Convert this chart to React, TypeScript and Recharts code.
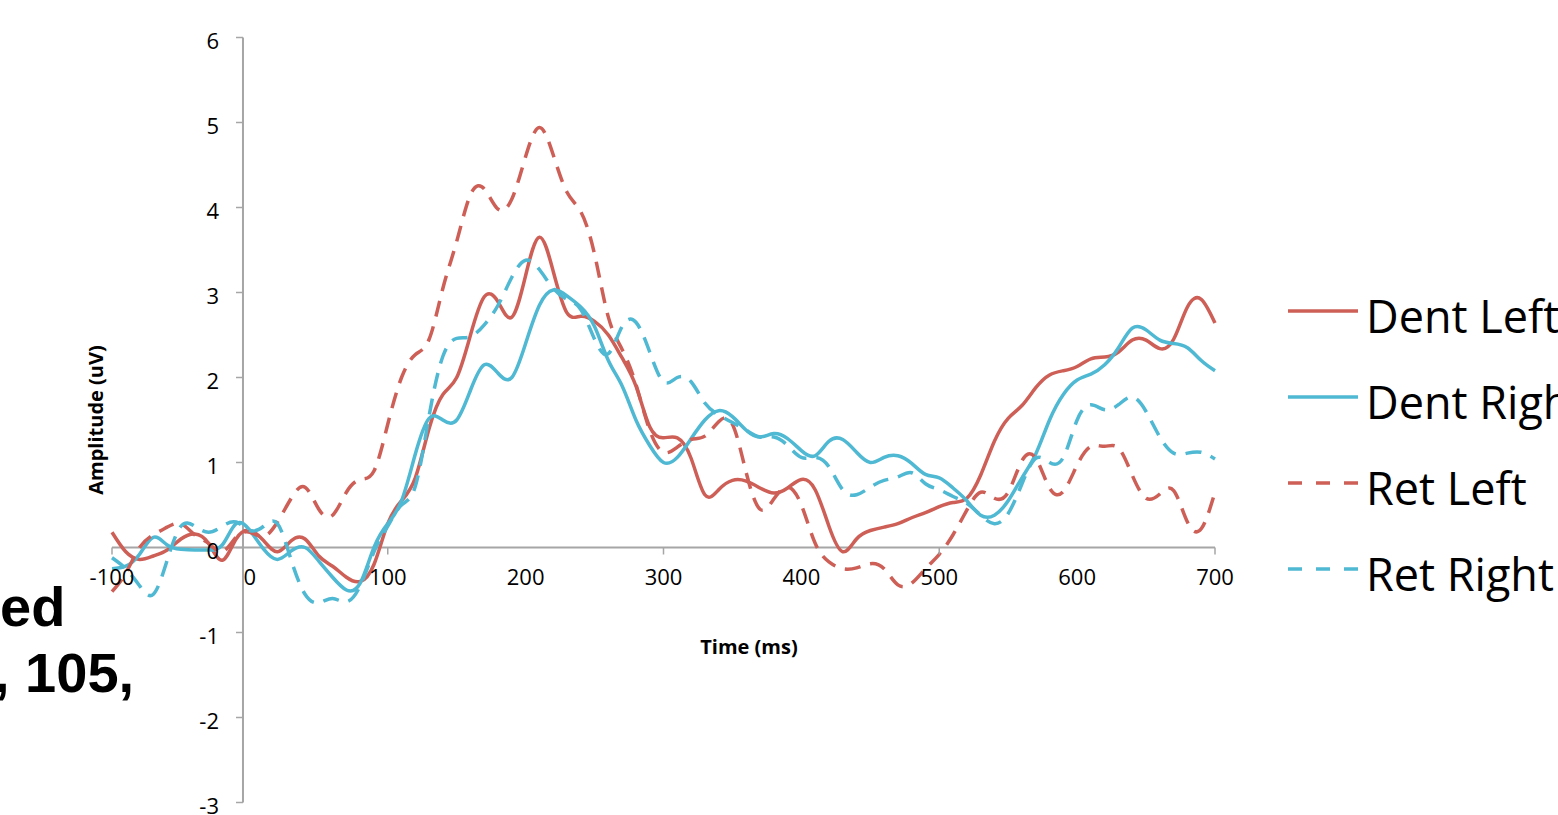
import { LineChart, Line, XAxis, YAxis, ReferenceLine } from "recharts";

// time points (ms)
const times = [
  -100, -90, -80, -70, -60, -50, -40, -30, -20, -10,
  0, 10, 20, 30, 40, 50, 60, 70, 80, 90,
  100, 110, 120, 130, 140, 150, 160, 170, 180, 190,
  200, 210, 220, 230, 240, 250, 260, 270, 280, 290,
  300, 310, 320, 330, 340, 350, 360, 370, 380, 390,
  400, 410, 420, 430, 440, 450, 460, 470, 480, 490,
  500, 510, 520, 530, 540, 550, 560, 570, 580, 590,
  600, 610, 620, 630, 640, 650, 660, 670, 680, 690,
  700,
];

const dentLeft = [
  0.18, -0.05, -0.14, -0.1, -0.03, 0.1, 0.16, 0.05, -0.15, 0.1,
  0.2, 0.08, -0.05, 0.08, 0.1, -0.1, -0.22, -0.35, -0.4, -0.2,
  0.28, 0.55, 0.82, 1.4, 1.8, 2.0, 2.5, 2.95, 2.89, 2.71,
  3.2, 3.65, 3.25, 2.76, 2.72, 2.66, 2.5, 2.23, 1.9, 1.42,
  1.29, 1.29, 1.05, 0.62, 0.68, 0.79, 0.78, 0.7, 0.64, 0.7,
  0.8, 0.68, 0.25, -0.05, 0.1, 0.2, 0.24, 0.28, 0.35, 0.41,
  0.48, 0.53, 0.58, 0.85, 1.25, 1.52, 1.67, 1.88, 2.03, 2.08,
  2.13, 2.22, 2.24, 2.3, 2.44, 2.44, 2.34, 2.45, 2.83, 2.92,
  2.64,
];

const dentRight = [
  -0.25, -0.22, -0.08, 0.12, 0.03, -0.02, -0.03, -0.03, 0.03, 0.28,
  0.2, -0.02, -0.14, -0.04, 0.0, -0.16, -0.35, -0.5, -0.42, 0.0,
  0.28, 0.55, 1.1, 1.52, 1.5, 1.5, 1.85, 2.15, 2.05, 2.0,
  2.4, 2.85, 3.03, 2.96, 2.83, 2.6, 2.2, 1.9, 1.5, 1.2,
  1.0, 1.06, 1.28, 1.5, 1.61, 1.54, 1.38, 1.3, 1.34, 1.28,
  1.14, 1.08, 1.25, 1.27, 1.12, 1.0, 1.06, 1.08, 0.99, 0.86,
  0.82, 0.7, 0.55, 0.38, 0.38, 0.55, 0.82, 1.1, 1.5, 1.8,
  1.97, 2.04, 2.15, 2.35, 2.58, 2.56, 2.44, 2.4, 2.35, 2.2,
  2.08,
];

const retLeft = [
  -0.52, -0.3, 0.0, 0.15, 0.24, 0.28, 0.15, 0.05, -0.05, 0.12,
  0.18, 0.13, 0.3, 0.58, 0.71, 0.45, 0.38, 0.65, 0.8, 0.9,
  1.45, 2.0, 2.27, 2.45, 3.05, 3.6, 4.15, 4.22, 3.98, 4.1,
  4.6, 4.94, 4.62, 4.18, 3.95, 3.45, 2.71, 2.33, 1.92, 1.38,
  1.12, 1.18, 1.27, 1.31, 1.48, 1.45, 0.88, 0.45, 0.57, 0.71,
  0.5, 0.05, -0.17, -0.25, -0.24, -0.19, -0.25, -0.44, -0.42, -0.25,
  -0.08, 0.15, 0.44, 0.65, 0.58, 0.65, 1.02, 1.05, 0.7, 0.66,
  0.97, 1.19, 1.19, 1.17, 0.85, 0.58, 0.63, 0.67, 0.3, 0.22,
  0.65,
];

const retRight = [
  -0.12, -0.25, -0.45, -0.55, -0.15, 0.25, 0.25, 0.18, 0.25, 0.3,
  0.2, 0.25, 0.28, -0.15, -0.55, -0.65, -0.6, -0.64, -0.45, -0.05,
  0.25, 0.5, 0.72, 1.55, 2.25, 2.46, 2.48, 2.62, 2.85, 3.18,
  3.38, 3.27, 3.05, 2.92, 2.8, 2.45, 2.28, 2.6, 2.65, 2.3,
  1.95, 2.0, 1.95, 1.7, 1.56, 1.47, 1.38, 1.3, 1.3, 1.2,
  1.06, 1.06, 0.95, 0.68, 0.62, 0.71, 0.79, 0.83, 0.88, 0.75,
  0.68, 0.6, 0.52, 0.38, 0.28, 0.4, 0.75, 1.05, 1.0, 1.06,
  1.5, 1.68, 1.62, 1.68, 1.77, 1.6, 1.3, 1.11, 1.11, 1.12,
  1.04,
];

const xTicks = [-100, 0, 100, 200, 300, 400, 500, 600, 700];
const xTickMarks = [-100, 100, 300, 500, 700];
const yTicks = [-3, -2, -1, 0, 1, 2, 3, 4, 5, 6];

const RED = "#cd5f57";
const BLUE = "#4fb8d2";
const AXIS = "#a6a6a6";
const FONT = "'Open Sans', sans-serif";
const DASH = "16 10";

const series = [
  { key: "dentLeft", name: "Dent Left", color: RED, dash: undefined },
  { key: "dentRight", name: "Dent Right", color: BLUE, dash: undefined },
  { key: "retLeft", name: "Ret Left", color: RED, dash: DASH },
  { key: "retRight", name: "Ret Right", color: BLUE, dash: DASH },
];

const data = times.map((t, i) => ({
  t,
  dentLeft: dentLeft[i],
  dentRight: dentRight[i],
  retLeft: retLeft[i],
  retRight: retRight[i],
}));

const W = 1558;
const H = 815;
const AX = 1; // tiny axis band, labels are drawn on the zero lines
const M = { top: 37.5, right: 343, bottom: 12.5 - AX, left: 112 - AX };
const PLOT_W = W - 112 - M.right;
const PLOT_H = H - M.top - 12.5;
const X_MIN = -100;
const X_MAX = 700;
const Y_MIN = -3;
const Y_MAX = 6;
const Y_AXIS_AT = -5; // vertical axis crosses a little left of 0 ms

// axes are drawn at value 0 / Y_AXIS_AT instead of the plot edges
const zeroShift = (-PLOT_H * (0 - Y_MIN)) / (Y_MAX - Y_MIN);
const yAxisShift = (PLOT_W * (Y_AXIS_AT - X_MIN)) / (X_MAX - X_MIN);

function XTick(props: any) {
  const { x, payload } = props;
  const ay = M.top + PLOT_H + zeroShift;
  return (
    <g>
      {xTickMarks.includes(payload.value) && (
        <line x1={x} x2={x} y1={ay} y2={ay + 7} stroke={AXIS} strokeWidth={1.5} />
      )}
      <text x={x} y={ay + 37} textAnchor="middle" fontSize={22} fontFamily={FONT} fill="#000">
        {payload.value}
      </text>
    </g>
  );
}

function YTick(props: any) {
  const { y, payload } = props;
  const ax = 112 + yAxisShift;
  return (
    <g>
      <line x1={ax - 7} x2={ax} y1={y} y2={y} stroke={AXIS} strokeWidth={1.5} />
      <text x={ax - 24} y={y + 11} textAnchor="end" fontSize={22} fontFamily={FONT} fill="#000">
        {payload.value}
      </text>
    </g>
  );
}

export default function App() {
  return (
    <div style={{ position: "absolute", left: 0, top: 0, width: W, height: H, overflow: "hidden", background: "#fff" }}>
      <div style={{ position: "absolute", left: 0, top: 574, fontFamily: "'Liberation Sans', Arial, sans-serif", fontWeight: 700, fontSize: 56, lineHeight: "66px", whiteSpace: "nowrap", color: "#000" }}>
        ed
      </div>
      <div style={{ position: "absolute", left: -6, top: 640, fontFamily: "'Liberation Sans', Arial, sans-serif", fontWeight: 700, fontSize: 56, lineHeight: "66px", whiteSpace: "nowrap", color: "#000" }}>
        , 105,
      </div>

      <div style={{ position: "absolute", left: 0, top: 0 }}>
        <LineChart width={W} height={H} data={data} margin={M}>
          <XAxis
            dataKey="t"
            type="number"
            domain={[X_MIN, X_MAX]}
            ticks={xTicks}
            height={AX}
            axisLine={false}
            tickLine={false}
            tick={(p: any) => <XTick {...p} />}
            interval={0}
          />
          <YAxis
            type="number"
            domain={[Y_MIN, Y_MAX]}
            ticks={yTicks}
            width={AX}
            axisLine={false}
            tickLine={false}
            tick={(p: any) => <YTick {...p} />}
            interval={0}
          />
          <ReferenceLine y={0} stroke={AXIS} strokeWidth={2} />
          <ReferenceLine x={Y_AXIS_AT} stroke={AXIS} strokeWidth={2} />
          {series.map((s) => (
            <Line
              key={s.key}
              type="natural"
              dataKey={s.key}
              name={s.name}
              stroke={s.color}
              strokeWidth={3.5}
              strokeDasharray={s.dash}
              dot={false}
              activeDot={false}
              isAnimationActive={false}
            />
          ))}
        </LineChart>
      </div>

      <div style={{ position: "absolute", left: 95, top: 420, transform: "translate(-50%, -50%) rotate(-90deg)", fontFamily: FONT, fontWeight: 700, fontSize: 20, whiteSpace: "nowrap", color: "#000" }}>
        Amplitude (uV)
      </div>
      <div style={{ position: "absolute", left: 749, top: 646, transform: "translate(-50%, -50%)", fontFamily: FONT, fontWeight: 700, fontSize: 20, whiteSpace: "nowrap", color: "#000" }}>
        Time (ms)
      </div>

      <div style={{ position: "absolute", left: 1288, top: 268 }}>
        {series.map((s) => (
          <div key={s.key} style={{ height: 86, display: "flex", alignItems: "center", whiteSpace: "nowrap" }}>
            <svg width={70} height={10} style={{ display: "block" }}>
              <line x1={0} x2={70} y1={5} y2={5} stroke={s.color} strokeWidth={3.5} strokeDasharray={s.dash ? "14 14" : undefined} />
            </svg>
            <span style={{ marginLeft: 8, fontFamily: FONT, fontSize: 45, lineHeight: 1, color: "#000", position: "relative", top: 4 }}>
              {s.name}
            </span>
          </div>
        ))}
      </div>
    </div>
  );
}
